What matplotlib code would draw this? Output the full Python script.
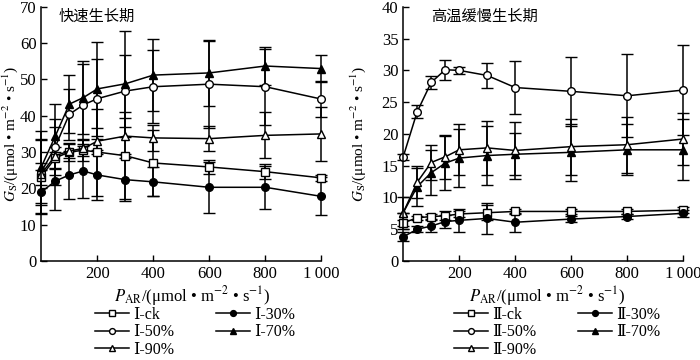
import matplotlib.pyplot as plt
from matplotlib.lines import Line2D

plt.rcParams['font.family'] = ['Liberation Serif', 'DejaVu Serif', 'Noto Sans CJK SC']
plt.rcParams['mathtext.fontset'] = 'stix'

par = [0, 50, 100, 150, 200, 300, 400, 600, 800, 1000]

# 快速生长期 (I)
i_ck = [23.2, 28.4, 30.0, 30.5, 30.0, 29.0, 27.0, 25.9, 24.6, 22.9]
i_30 = [19.0, 22.0, 23.7, 24.8, 23.7, 22.4, 21.8, 20.3, 20.3, 17.8]
i_50 = [24.5, 31.5, 40.4, 43.0, 44.7, 46.8, 48.0, 48.7, 48.0, 44.6]
i_70 = [25.9, 34.4, 43.2, 45.0, 47.4, 48.8, 51.2, 51.8, 53.7, 53.0]
i_90 = [24.0, 29.0, 30.3, 31.0, 33.0, 34.4, 33.9, 33.7, 34.6, 35.0]
i_ck_err = [10.0, 3.0, 2.5, 3.0, 12.0, 12.0, 9.0, 2.0, 2.0, 0.8]
i_30_err = [6.0, 8.0, 6.5, 7.5, 7.0, 6.0, 4.0, 7.0, 6.0, 5.2]
i_50_err = [9.0, 7.7, 7.0, 11.3, 11.0, 10.0, 10.0, 12.0, 10.5, 5.0]
i_70_err = [10.0, 8.8, 8.0, 10.0, 13.0, 14.6, 10.0, 9.0, 5.3, 3.8]
i_90_err = [3.0, 8.0, 2.0, 2.2, 3.5, 5.0, 3.6, 3.5, 6.3, 7.5]

# 高温缓慢生长期 (II)
ii_ck = [6.0, 6.8, 7.0, 7.1, 7.4, 7.6, 7.8, 7.8, 7.8, 8.0]
ii_30 = [3.8, 5.0, 5.5, 6.2, 6.4, 6.7, 6.1, 6.6, 7.0, 7.5]
ii_50 = [16.4, 23.5, 28.1, 30.1, 30.0, 29.2, 27.3, 26.7, 26.0, 26.9]
ii_70 = [7.6, 11.7, 13.9, 15.4, 16.2, 16.6, 16.8, 17.1, 17.5, 17.5]
ii_90 = [7.6, 12.4, 15.5, 16.4, 17.5, 17.8, 17.4, 18.0, 18.3, 19.2]
ii_ck_err = [0.5, 0.3, 0.4, 0.7, 0.5, 1.2, 0.4, 0.4, 0.4, 0.5]
ii_30_err = [0.7, 0.5, 0.9, 1.0, 1.8, 2.4, 1.5, 0.5, 0.4, 0.6]
ii_50_err = [0.5, 1.0, 1.0, 1.6, 0.5, 1.9, 4.2, 5.4, 6.5, 7.1]
ii_70_err = [0.0, 3.0, 3.5, 4.2, 4.5, 4.6, 3.3, 4.5, 4.0, 4.8]
ii_90_err = [2.5, 2.5, 2.8, 3.5, 4.0, 4.2, 4.5, 4.4, 4.4, 4.1]

styles = {
    'ck': dict(marker='s', mfc='white'),
    '30%': dict(marker='o', mfc='black'),
    '50%': dict(marker='o', mfc='white'),
    '70%': dict(marker='^', mfc='black'),
    '90%': dict(marker='^', mfc='white'),
}


def draw_panel(ax, prefix, series, title, ymax, ystep, title_x, ylab_x, xlab_x):
    for key, (vals, errs) in series.items():
        st = styles[key]
        ax.errorbar(par, vals, yerr=errs, color='black', lw=1.1, elinewidth=1.1,
                    capsize=4, capthick=1.1, marker=st['marker'], ms=5.5,
                    mfc=st['mfc'], mec='black', mew=1.0, clip_on=False)
    ax.set_xlim(0, 1000)
    ax.set_ylim(0, ymax)
    ax.set_xticks([200, 400, 600, 800, 1000])
    ax.set_xticklabels(['200', '400', '600', '800', '1\u2009000'])
    ax.set_yticks(range(0, ymax + 1, ystep))
    ax.tick_params(direction='in', length=4, width=1, labelsize=12)
    for s in ['top', 'right']:
        ax.spines[s].set_visible(False)
    for s in ['left', 'bottom']:
        ax.spines[s].set_linewidth(1.1)
    ax.text(title_x, 0.995, title, transform=ax.transAxes,
            fontsize=11, va='top', ha='left', family='Noto Sans CJK SC')
    ax.set_xlabel(r'$P_{\rm AR}$/(μmol • m$^{-2}$ • s$^{-1}$)', fontsize=12)
    ax.xaxis.set_label_coords(xlab_x, -0.09)
    ax.set_ylabel(r'$G_{\rm S}$/(μmol • m$^{-2}$ • s$^{-1}$)', fontsize=11)
    ax.yaxis.set_label_coords(ylab_x, 0.5)
    order = ['ck', '50%', '90%', '30%', '70%']
    handles = [Line2D([], [], color='black', lw=1.1, marker=styles[k]['marker'],
                      ms=4.2, mfc=styles[k]['mfc'], mec='black', mew=1.0)
               for k in order]
    ax.legend(handles, [prefix + '-' + k for k in order],
              ncol=2, frameon=False, fontsize=11.5, loc='upper center',
              bbox_to_anchor=(0.55, -0.155), handlelength=2.1, handletextpad=0.3,
              columnspacing=2.6, labelspacing=0.1, borderaxespad=0)


fig = plt.figure(figsize=(7, 3.6), dpi=100)
ax1 = fig.add_axes([0.059, 0.275, 0.4, 0.706])
ax2 = fig.add_axes([0.576, 0.275, 0.4, 0.706])

draw_panel(ax1, 'Ⅰ', {'ck': (i_ck, i_ck_err), '30%': (i_30, i_30_err),
                      '50%': (i_50, i_50_err), '70%': (i_70, i_70_err),
                      '90%': (i_90, i_90_err)}, '快速生长期', 70, 10,
           0.06, -0.075, 0.54)
draw_panel(ax2, 'Ⅱ', {'ck': (ii_ck, ii_ck_err), '30%': (ii_30, ii_30_err),
                      '50%': (ii_50, ii_50_err), '70%': (ii_70, ii_70_err),
                      '90%': (ii_90, ii_90_err)}, '高温缓慢生长期', 40, 5,
           0.1, -0.125, 0.515)

fig.savefig('out.png', dpi=100)
